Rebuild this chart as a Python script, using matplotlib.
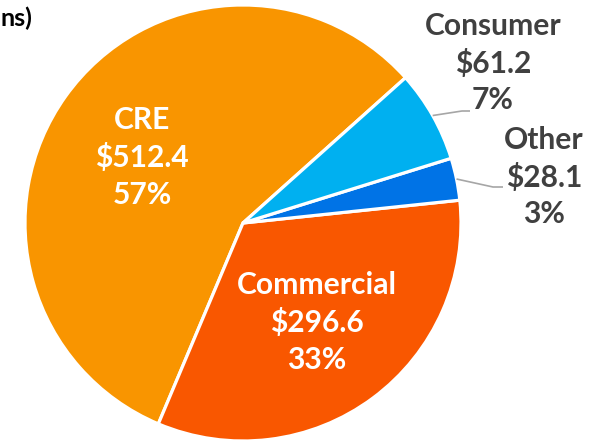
import numpy as np
import matplotlib
matplotlib.use("Agg")
import matplotlib.pyplot as plt

# loan portfolio ($ in millions)
categories = ["CRE", "Commercial", "Other", "Consumer"]
amounts = [512.4, 296.6, 28.1, 61.2]
pct_labels = ["57%", "33%", "3%", "7%"]
colors = ["#F99500", "#F95700", "#0073E6", "#00B0F0"]

W, H = 593, 441
fig = plt.figure(figsize=(W / 100, H / 100), dpi=100)
ax = fig.add_axes([0, 0, 1, 1])

cx, cy, R = 243, 218, 218
wedges, _ = ax.pie(amounts, colors=colors, radius=R, center=(cx, cy),
                   startangle=41.8, counterclock=True,
                   wedgeprops=dict(edgecolor="white", linewidth=2.3))
ax.set_xlim(0, W)
ax.set_ylim(0, H)
ax.set_aspect("equal")
ax.axis("off")

font = dict(family=["Lato", "DejaVu Sans"], fontweight="bold", fontsize=21.6)

def mid_point(w, frac):
    ang = np.deg2rad((w.theta1 + w.theta2) / 2)
    return cx + frac * R * np.cos(ang), cy + frac * R * np.sin(ang)

# labels inside the big slices (small nudge for CRE)
nudge = {0: -7, 1: 0}
for i in [0, 1]:
    x, y = mid_point(wedges[i], 0.57)
    txt = f"{categories[i]}\n${amounts[i]:.1f}\n{pct_labels[i]}"
    ax.text(x, y + nudge[i], txt, color="white", ha="center", va="center",
            linespacing=1.38, **font)

# labels outside the small slices, with leader lines
outside = {3: ((462, 111), (470, 111), (493, 63)),
           2: ((493, 187), (503, 187), (544, 177))}
for i, (elbow, end, tpos) in outside.items():
    x0, y0 = mid_point(wedges[i], 1.0)
    ax.plot([x0, elbow[0], end[0]], [y0, H - elbow[1], H - end[1]],
            color="#A6A6A6", lw=1.2, solid_capstyle="butt")
    txt = f"{categories[i]}\n${amounts[i]:.1f}\n{pct_labels[i]}"
    ax.text(tpos[0], H - tpos[1], txt, color="#404040", ha="center",
            va="center", linespacing=1.38, **font)

# only the tail of the units note is visible at the left edge
ax.text(0, H - 18, "ns)", color="black", ha="left", va="center",
        family=["Lato", "DejaVu Sans"], fontweight="bold", fontsize=18)

fig.savefig("out.png", dpi=100)
